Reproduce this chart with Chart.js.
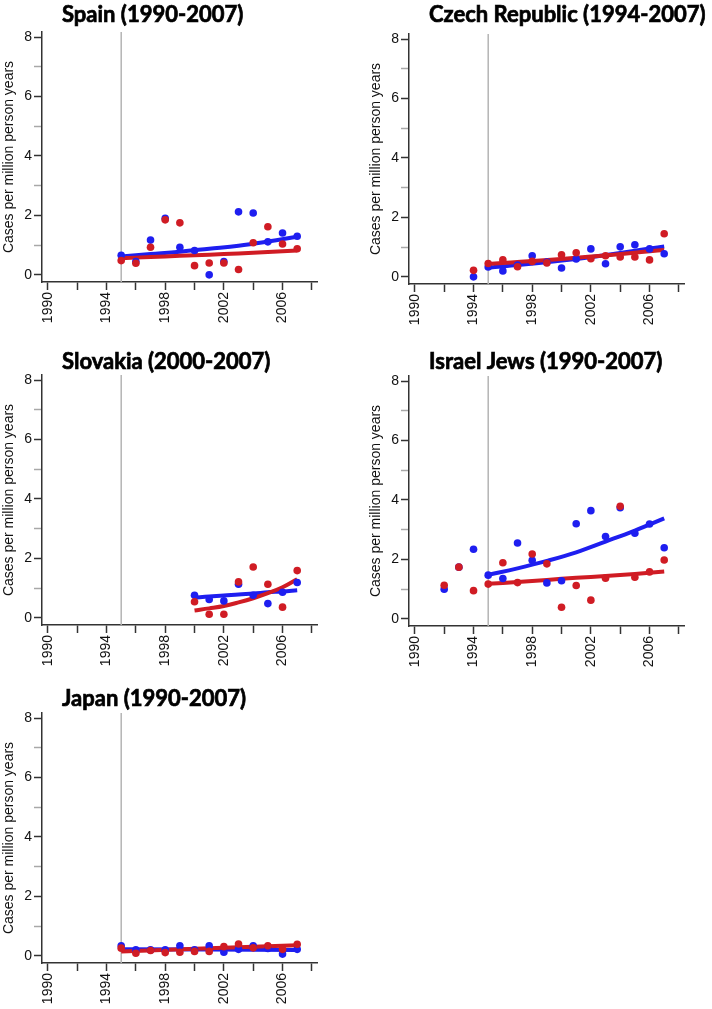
<!DOCTYPE html>
<html>
<head>
<meta charset="utf-8">
<script src="https://cdn.jsdelivr.net/npm/chart.js@4.4.1/dist/chart.umd.min.js"></script>
<style>
  body { margin: 0; background: #fff; }
  .panel { position: absolute; }
</style>
</head>
<body>
<div class="panel" style="left:0px;top:0px"><canvas id="spain" width="356" height="326"></canvas></div>
<div class="panel" style="left:367px;top:2px"><canvas id="czech" width="345" height="326"></canvas></div>
<div class="panel" style="left:0px;top:343px"><canvas id="slovakia" width="356" height="326"></canvas></div>
<div class="panel" style="left:367px;top:344px"><canvas id="israel" width="345" height="326"></canvas></div>
<div class="panel" style="left:0px;top:681px"><canvas id="japan" width="356" height="326"></canvas></div>
<script>
// axis ticks
const xTicks = [1990, 1992, 1994, 1996, 1998, 2000, 2002, 2004, 2006, 2008];
const xLabels = [1990, 1994, 1998, 2002, 2006];
const yTicks = [0, 1, 2, 3, 4, 5, 6, 7, 8];
const yLabels = [0, 2, 4, 6, 8];
const refYear = 1995;

// Spain
const spainYears = [1995, 1996, 1997, 1998, 1999, 2000, 2001, 2002, 2003, 2004, 2005, 2006, 2007];
const spainBlue = [0.66, 0.45, 1.17, 1.90, 0.93, 0.82, 0.00, 0.45, 2.12, 2.08, 1.11, 1.41, 1.30];
const spainRed = [0.48, 0.39, 0.93, 1.85, 1.75, 0.31, 0.40, 0.40, 0.18, 1.08, 1.62, 1.04, 0.88];
const spainFitYears = [1995, 1997, 1999, 2001, 2003, 2005, 2007];
const spainBlueFit = [0.62, 0.70, 0.78, 0.88, 0.98, 1.12, 1.28];
const spainRedFit = [0.56, 0.60, 0.64, 0.68, 0.72, 0.77, 0.82];

// Czech Republic
const czechYears = [1994, 1995, 1996, 1997, 1998, 1999, 2000, 2001, 2002, 2003, 2004, 2005, 2006, 2007];
const czechBlue = [0.00, 0.33, 0.20, 0.40, 0.71, 0.50, 0.30, 0.60, 0.94, 0.44, 1.01, 1.08, 0.94, 0.78];
const czechRed = [0.22, 0.45, 0.57, 0.34, 0.52, 0.47, 0.74, 0.81, 0.61, 0.71, 0.67, 0.67, 0.57, 1.45];
const czechFitYears = [1995, 2001, 2007];
const czechBlueFit = [0.31, 0.60, 1.02];
const czechRedFit = [0.43, 0.64, 0.90];

// Slovakia
const slovakiaYears = [2000, 2001, 2002, 2003, 2004, 2005, 2006, 2007];
const slovakiaBlue = [0.76, 0.62, 0.57, 1.13, 0.76, 0.48, 0.86, 1.19];
const slovakiaRed = [0.54, 0.12, 0.12, 1.21, 1.71, 1.13, 0.36, 1.59];
const slovakiaFitYears = [2000, 2001, 2002, 2003, 2004, 2005, 2006, 2007];
const slovakiaBlueFit = [0.68, 0.72, 0.75, 0.79, 0.82, 0.86, 0.89, 0.93];
const slovakiaRedFit = [0.25, 0.32, 0.40, 0.52, 0.66, 0.83, 1.03, 1.30];

// Israel Jews
const israelYears = [1992, 1993, 1994, 1995, 1996, 1997, 1998, 1999, 2000, 2001, 2002, 2003, 2004, 2005, 2006, 2007];
const israelBlue = [1.00, 1.74, 2.34, 1.47, 1.36, 2.55, 1.97, 1.21, 1.28, 3.20, 3.64, 2.77, 3.74, 2.88, 3.19, 2.39];
const israelRed = [1.13, 1.74, 0.95, 1.17, 1.89, 1.22, 2.18, 1.85, 0.39, 1.12, 0.63, 1.37, 3.79, 1.40, 1.58, 1.98];
const israelFitYears = [1995, 1997, 1999, 2001, 2003, 2005, 2007];
const israelBlueFit = [1.48, 1.70, 1.95, 2.24, 2.60, 2.97, 3.38];
const israelRedFit = [1.18, 1.24, 1.31, 1.38, 1.44, 1.51, 1.59];

// Japan
const japanYears = [1995, 1996, 1997, 1998, 1999, 2000, 2001, 2002, 2003, 2004, 2005, 2006, 2007];
const japanBlue = [0.34, 0.20, 0.20, 0.20, 0.34, 0.20, 0.34, 0.12, 0.22, 0.34, 0.25, 0.06, 0.22];
const japanRed = [0.26, 0.09, 0.18, 0.11, 0.12, 0.15, 0.15, 0.31, 0.40, 0.27, 0.34, 0.22, 0.39];
const japanFitYears = [1995, 2007];
const japanBlueFit = [0.22, 0.20];
const japanRedFit = [0.15, 0.36];

const BLUE = '#1e1ef0';
const RED = '#d01c24';
const AXIS = '#333';
const SANS = "'Liberation Sans', Arial, sans-serif";

function pts(xs, ys) {
  return xs.map((x, i) => ({ x: x, y: ys[i] }));
}

// grey reference line + bold title
const decor = {
  id: 'decor',
  beforeDatasetsDraw(chart, args, opts) {
    const { ctx, chartArea, scales } = chart;
    const x = scales.x.getPixelForValue(refYear);
    ctx.save();
    ctx.strokeStyle = '#b4b4b4';
    ctx.lineWidth = 1.5;
    ctx.beginPath();
    ctx.moveTo(x, chartArea.top);
    ctx.lineTo(x, chartArea.bottom);
    ctx.stroke();
    ctx.restore();
  },
  afterDraw(chart, args, opts) {
    const { ctx, chartArea } = chart;
    ctx.save();
    ctx.font = "bold 22px 'Lato'";
    ctx.fillStyle = '#000';
    ctx.strokeStyle = '#000';
    ctx.lineWidth = 0.7;
    ctx.textBaseline = 'middle';
    ctx.textAlign = 'left';
    ctx.fillText(opts.text, chartArea.left + 20, opts.y);
    ctx.strokeText(opts.text, chartArea.left + 20, opts.y);
    ctx.restore();
  }
};

function makeChart(id, title, titleY, padRight, years, blue, red, fitYears, blueFit, redFit) {
  new Chart(document.getElementById(id), {
    type: 'scatter',
    data: {
      datasets: [
        { label: 'red', data: pts(years, red), backgroundColor: RED, borderColor: RED, pointRadius: 3.8, pointBorderWidth: 0 },
        { label: 'blue', data: pts(years, blue), backgroundColor: BLUE, borderColor: BLUE, pointRadius: 3.8, pointBorderWidth: 0 },
        { label: 'red fit', type: 'line', data: pts(fitYears, redFit), borderColor: RED, borderWidth: 4, pointRadius: 0, tension: 0.4, fill: false },
        { label: 'blue fit', type: 'line', data: pts(fitYears, blueFit), borderColor: BLUE, borderWidth: 4, pointRadius: 0, tension: 0.4, fill: false }
      ]
    },
    options: {
      responsive: false,
      animation: false,
      devicePixelRatio: 1,
      layout: { padding: { top: 32, right: padRight, bottom: 0, left: 0 } },
      plugins: {
        legend: { display: false },
        tooltip: { enabled: false },
        decor: { text: title, y: titleY }
      },
      scales: {
        x: {
          type: 'linear',
          min: 1989.6,
          max: 2008.35,
          afterBuildTicks: s => { s.ticks = xTicks.map(v => ({ value: v })); },
          afterFit: s => { s.height = 44; },
          grid: { display: true, drawOnChartArea: false, drawTicks: true, tickLength: 8, tickColor: AXIS, tickWidth: 1.5 },
          border: { display: true, color: AXIS, width: 1.5 },
          ticks: {
            autoSkip: false,
            minRotation: 90,
            maxRotation: 90,
            padding: 2,
            color: '#111',
            font: { family: SANS, size: 14 },
            callback: v => xLabels.includes(v) ? String(v) : ''
          }
        },
        y: {
          min: -0.24,
          max: 8.17,
          afterBuildTicks: s => { s.ticks = yTicks.map(v => ({ value: v })); },
          afterFit: s => { s.width = 42; },
          grid: {
            display: true, drawOnChartArea: false, drawTicks: true, tickLength: 8, tickWidth: 1.5,
            tickColor: c => (c.tick && c.tick.value % 2 === 1) ? '#a8a8a8' : AXIS
          },
          border: { display: true, color: AXIS, width: 1.5 },
          title: {
            display: true,
            text: 'Cases per million person years',
            color: '#111',
            font: { family: SANS, size: 14 },
            padding: { top: 1, bottom: 0 }
          },
          ticks: {
            padding: 2,
            color: '#111',
            font: { family: SANS, size: 14 },
            callback: v => yLabels.includes(v) ? String(v) : ''
          }
        }
      }
    },
    plugins: [decor]
  });
}

makeChart('spain', 'Spain (1990-2007)', 15, 39, spainYears, spainBlue, spainRed, spainFitYears, spainBlueFit, spainRedFit);
makeChart('czech', 'Czech Republic (1994-2007)', 13, 28, czechYears, czechBlue, czechRed, czechFitYears, czechBlueFit, czechRedFit);
makeChart('slovakia', 'Slovakia (2000-2007)', 19, 39, slovakiaYears, slovakiaBlue, slovakiaRed, slovakiaFitYears, slovakiaBlueFit, slovakiaRedFit);
makeChart('israel', 'Israel Jews (1990-2007)', 18, 28, israelYears, israelBlue, israelRed, israelFitYears, israelBlueFit, israelRedFit);
makeChart('japan', 'Japan (1990-2007)', 18, 39, japanYears, japanBlue, japanRed, japanFitYears, japanBlueFit, japanRedFit);
</script>
</body>
</html>
